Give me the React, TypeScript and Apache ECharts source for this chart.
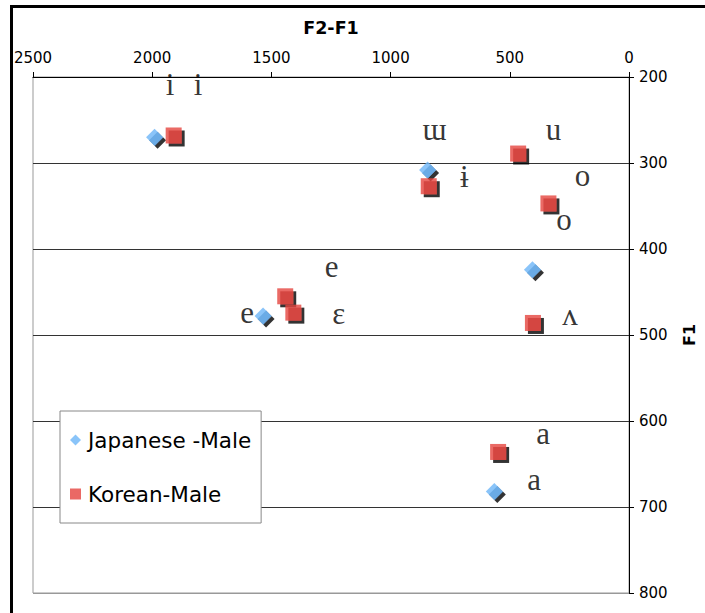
import React, { useEffect, useRef } from "react";
import * as echarts from "echarts";

const japaneseMale: [number, number][] = [
  [1990, 270],
  [845, 308],
  [405, 424],
  [1535, 478],
  [565, 682],
];

const koreanMale: [number, number][] = [
  [1910, 268],
  [840, 327],
  [465, 289],
  [338, 347],
  [1442, 455],
  [1408, 474],
  [403, 486],
  [549, 636],
];

const vowelLabels: { name: string; value: [number, number] }[] = [
  { name: "i", value: [1925, 209] },
  { name: "i", value: [1808, 209] },
  { name: "ɯ", value: [816, 261] },
  { name: "u", value: [317, 261] },
  { name: "ɨ", value: [691, 316] },
  { name: "o", value: [195, 315] },
  { name: "o", value: [273, 366] },
  { name: "e", value: [1247, 420] },
  { name: "e", value: [1602, 474] },
  { name: "ɛ", value: [1217, 475] },
  { name: "ʌ", value: [248, 476] },
  { name: "a", value: [360, 614] },
  { name: "a", value: [398, 668] },
];

const xTicks = { min: 0, max: 2500, interval: 500 };
const yTicks = { min: 200, max: 800, interval: 100 };

export default function App() {
  const ref = useRef<HTMLDivElement>(null);
  useEffect(() => {
    document.body.style.margin = "0";
    const chart = echarts.init(ref.current!, undefined, { renderer: "svg" });
    const sans = "DejaVu Sans";
    const shadow = {
      shadowColor: "#000",
      shadowOffsetX: 3,
      shadowOffsetY: 3,
      shadowBlur: 0,
    };
    chart.setOption({
      animation: false,
      backgroundColor: "#fff",
      grid: {
        left: 33,
        right: 72,
        top: 77,
        bottom: 20,
        show: true,
        borderColor: "#999",
        borderWidth: 1,
        backgroundColor: "transparent",
      },
      xAxis: {
        type: "value",
        position: "top",
        inverse: true,
        min: xTicks.min,
        max: xTicks.max,
        interval: xTicks.interval,
        name: "F2-F1",
        nameLocation: "middle",
        nameGap: 40,
        nameTextStyle: { fontFamily: sans, fontSize: 17.5, fontWeight: "bold", color: "#000" },
        axisLine: { show: true, lineStyle: { color: "#000", width: 1 } },
        axisTick: { show: true, inside: false, length: 5, lineStyle: { color: "#000" } },
        axisLabel: {
          fontFamily: sans,
          fontSize: 15,
          color: "#000",
          margin: 12,
          formatter: (v: number) => String(v),
        },
        splitLine: { show: false },
      },
      yAxis: {
        type: "value",
        position: "right",
        inverse: true,
        min: yTicks.min,
        max: yTicks.max,
        interval: yTicks.interval,
        name: "F1",
        nameLocation: "middle",
        nameRotate: 90,
        nameGap: 52,
        nameTextStyle: { fontFamily: sans, fontSize: 16, fontWeight: "bold", color: "#000" },
        axisLine: { show: true, lineStyle: { color: "#000", width: 1 } },
        axisTick: { show: true, inside: false, length: 5, lineStyle: { color: "#000" } },
        axisLabel: {
          fontFamily: sans,
          fontSize: 15,
          color: "#000",
          margin: 10,
          formatter: (v: number) => String(v),
        },
        splitLine: {
          show: true,
          lineStyle: {
            color: ["#000", "#333", "#333", "#333", "#333", "#333", "#999"],
            width: 1,
          },
        },
      },
      legend: {
        show: true,
        data: ["Japanese -Male", "Korean-Male"],
        orient: "vertical",
        left: 60,
        top: 411,
        backgroundColor: "#fff",
        borderColor: "#888",
        borderWidth: 1,
        borderRadius: 0,
        padding: [18, 10, 18, 10],
        itemWidth: 11,
        itemHeight: 11,
        itemGap: 32,
        textStyle: { fontFamily: sans, fontSize: 21.5, color: "#000", padding: [0, 0, 0, 2] },
        itemStyle: { shadowColor: "rgba(0,0,0,0)", shadowOffsetX: 0, shadowOffsetY: 0, shadowBlur: 0 },
      },
      graphic: [
        { type: "rect", shape: { x: 10, y: 5, width: 3, height: 620 }, style: { fill: "#000" } },
        { type: "rect", shape: { x: 10, y: 5, width: 720, height: 3 }, style: { fill: "#000" } },
      ],
      series: [
        {
          name: "Japanese -Male",
          type: "scatter",
          symbol: "diamond",
          symbolSize: 17,
          data: japaneseMale,
          itemStyle: { color: "#6db5f7", ...shadow },
          z: 3,
        },
        {
          name: "Korean-Male",
          type: "scatter",
          symbol: "rect",
          symbolSize: 16,
          data: koreanMale,
          itemStyle: { color: "#e5443f", ...shadow },
          z: 4,
        },
        {
          name: "labels",
          type: "scatter",
          symbol: "circle",
          symbolSize: 0,
          silent: true,
          data: vowelLabels,
          itemStyle: { color: "transparent" },
          label: {
            show: true,
            position: "inside",
            formatter: (p: any) => p.name,
            fontFamily: "Liberation Serif",
            fontSize: 31,
            color: "#000",
          },
          z: 5,
        },
      ],
    });
    return () => chart.dispose();
  }, []);
  return (
    <div
      ref={ref}
      style={{ position: "fixed", left: 0, top: 0, width: 705, height: 613 }}
    />
  );
}
